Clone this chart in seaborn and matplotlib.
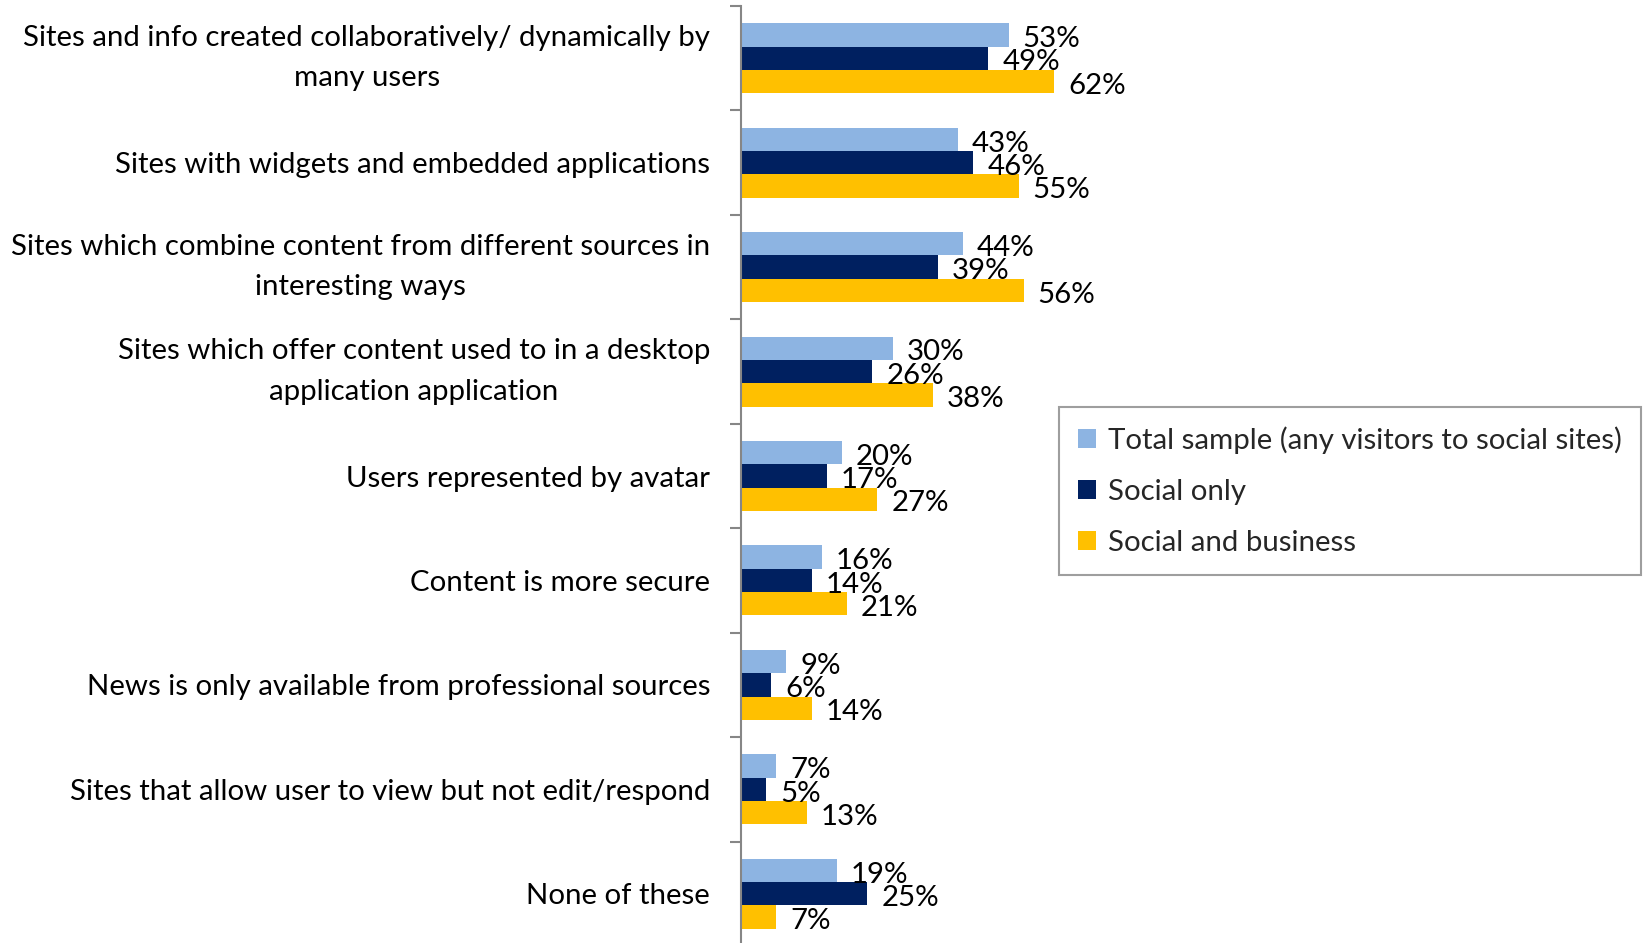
import matplotlib
matplotlib.use("Agg")
import matplotlib.pyplot as plt
import seaborn as sns
import pandas as pd
import numpy as np

categories = [
    "Sites and info created collaboratively/ dynamically by\nmany users",
    "Sites with widgets and embedded applications",
    "Sites which combine content from different sources in\ninteresting ways",
    "Sites which offer content used to in a desktop\napplication application",
    "Users represented by avatar",
    "Content is more secure",
    "News is only available from professional sources",
    "Sites that allow user to view but not edit/respond",
    "None of these",
]
series_names = [
    "Total sample (any visitors to social sites)",
    "Social only",
    "Social and business",
]
total_sample = [53, 43, 44, 30, 20, 16, 9, 7, 19]
social_only = [49, 46, 39, 26, 17, 14, 6, 5, 25]
social_business = [62, 55, 56, 38, 27, 21, 14, 13, 7]
colors = ["#8DB4E2", "#002060", "#FFC000"]

rows = []
for name, vals in zip(series_names, [total_sample, social_only, social_business]):
    for cat, v in zip(categories, vals):
        rows.append({"category": cat, "series": name, "value": v})
df = pd.DataFrame(rows)

sns.set_theme(style="white")
plt.rcParams["font.family"] = ["Lato", "DejaVu Sans"]

W, H = 1644, 943
fig = plt.figure(figsize=(W / 100, H / 100), dpi=100)
# plot area: left spine at x=741 px, category band from y=6 px down past the bottom edge
top_px, bottom_px = 6, 946
ax = fig.add_axes([741 / W, 1 - bottom_px / H, 505 / W, (bottom_px - top_px) / H])

sns.barplot(
    data=df, y="category", x="value", hue="series", orient="h",
    order=categories, hue_order=series_names, palette=colors,
    width=0.67, gap=0, linewidth=0, saturation=1, ax=ax, legend=True,
)

ax.set_xlim(0, 100)
ax.set_ylim(len(categories) - 0.5, -0.5)
ax.set_xlabel("")
ax.set_ylabel("")
ax.set_xticks([])
for s in ["top", "right", "bottom"]:
    ax.spines[s].set_visible(False)
ax.spines["left"].set_color("#868686")
ax.spines["left"].set_linewidth(1.5)

fs = 21.2
ax.set_yticks(range(len(categories)))
ax.set_yticklabels(categories, fontsize=fs, color="black", multialignment="center",
                   linespacing=1.68)
for lbl in ax.get_yticklabels():
    if "\n" in lbl.get_text():
        lbl.set_verticalalignment("center")
ax.tick_params(axis="y", which="major", length=0, pad=31 * 72 / 100)
ax.set_yticks(np.arange(-0.5, len(categories), 1.0), minor=True)
ax.tick_params(axis="y", which="minor", length=8, width=1.5, color="#868686",
               direction="out", left=True)

for container in ax.containers:
    texts = ax.bar_label(container, labels=[f"{int(v)}%" for v in container.datavalues],
                         padding=10, fontsize=fs, color="black")
    for t in texts:
        t.xyann = (10, -3)

handles, labels = ax.get_legend_handles_labels()
ax.legend(
    handles, labels, loc="upper left",
    bbox_to_anchor=(1059 / W, 1 - 407 / H), bbox_transform=fig.transFigure,
    fontsize=fs, frameon=True, fancybox=False, edgecolor="#868686",
    handlelength=0.6, handleheight=0.6, handletextpad=0.4, labelspacing=0.85,
    borderpad=0.65, borderaxespad=0,
)
ax.get_legend().get_frame().set_linewidth(1.5)

fig.savefig("out.png", dpi=100)
